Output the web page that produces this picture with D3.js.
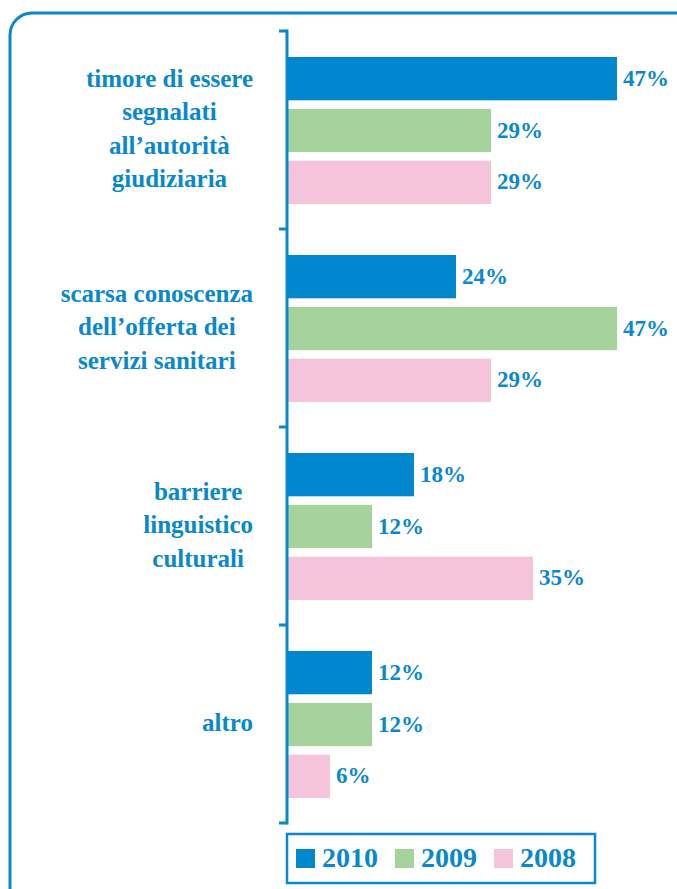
<!DOCTYPE html>
<html>
<head>
<meta charset="utf-8">
<script src="https://cdn.jsdelivr.net/npm/d3@7"></script>
<style>
  html, body { margin: 0; padding: 0; background: #ffffff; }
  svg { display: block; }
</style>
</head>
<body>
<svg id="chart" width="677" height="889"></svg>
<script>
// ---- data ----
const categories = [
  ["timore di essere", "segnalati", "all\u2019autorità", "giudiziaria"],
  ["scarsa conoscenza", "dell\u2019offerta dei", "servizi sanitari"],
  ["barriere", "linguistico", "culturali"],
  ["altro"]
];
const series = ["2010", "2009", "2008"];
const values2010 = [47, 24, 18, 12];
const values2009 = [29, 47, 12, 12];
const values2008 = [29, 29, 35, 6];
const seriesColors = ["#0087cd", "#a6d39c", "#f6c4da"];

const textColor = "#0a88cc";
const font = "'Liberation Serif', 'Times New Roman', serif";

const svg = d3.select("#chart");

// outer frame
svg.append("rect")
  .attr("x", 10).attr("y", 13).attr("width", 700).attr("height", 920)
  .attr("rx", 22).attr("ry", 22)
  .attr("fill", "none").attr("stroke", textColor).attr("stroke-width", 3);

const catIdx = categories.map((d, i) => i);
const y = d3.scaleBand().domain(catIdx).range([31, 823]).paddingInner(0).paddingOuter(0);
const ySub = d3.scaleBand().domain(series).range([26, 173]).paddingInner(0.165);
const x = d3.scaleLinear().domain([0, 47]).range([288, 617]);

const table = catIdx.map(i => series.map((s, j) => ({
  cat: i, series: s, color: seriesColors[j],
  value: [values2010, values2009, values2008][j][i]
})));

// bars
const groups = svg.append("g").selectAll("g").data(table).join("g")
  .attr("transform", (d, i) => `translate(0,${y(i)})`);

groups.selectAll("rect").data(d => d).join("rect")
  .attr("x", x(0))
  .attr("y", d => ySub(d.series))
  .attr("width", d => x(d.value) - x(0))
  .attr("height", ySub.bandwidth())
  .attr("fill", d => d.color);

groups.selectAll("text").data(d => d).join("text")
  .attr("x", d => x(d.value) + 6)
  .attr("y", d => ySub(d.series) + ySub.bandwidth() / 2 + 7)
  .attr("fill", textColor)
  .attr("font-family", font)
  .attr("font-weight", "bold")
  .attr("font-size", 23)
  .text(d => d.value + "%");

// axis line with boundary ticks
const axisX = 287;
const axis = svg.append("g").attr("stroke", textColor).attr("stroke-width", 3);
axis.append("line")
  .attr("x1", axisX).attr("x2", axisX)
  .attr("y1", y.range()[0] - 1.5).attr("y2", y.range()[1] + 1.5);
const tickYs = catIdx.map(i => y(i)).concat([y.range()[1]]);
axis.selectAll("line.tick").data(tickYs).join("line")
  .attr("class", "tick")
  .attr("x1", axisX - 8).attr("x2", axisX)
  .attr("y1", d => d).attr("y2", d => d);

// category labels: block right-aligned at 253, lines centered within block
const labelRight = 253;
const lineH = 33.5;
catIdx.forEach(i => {
  const lines = categories[i];
  const cy = y(i) + y.bandwidth() / 2;
  const g = svg.append("g");
  const texts = g.selectAll("text").data(lines).join("text")
    .attr("y", (d, k) => cy + 7 + (k - (lines.length - 1) / 2) * lineH)
    .attr("fill", textColor)
    .attr("font-family", font)
    .attr("font-weight", "bold")
    .attr("font-size", 25)
    .attr("text-anchor", "middle")
    .text(d => d);
  let maxW = 0;
  texts.each(function () { maxW = Math.max(maxW, this.getComputedTextLength()); });
  texts.attr("x", labelRight - maxW / 2);
});

// legend
const legend = svg.append("g");
legend.append("rect")
  .attr("x", 287).attr("y", 834).attr("width", 308).attr("height", 49)
  .attr("fill", "#fff").attr("stroke", textColor).attr("stroke-width", 2.5);
const legX = [296, 395, 494];
series.forEach((s, j) => {
  legend.append("rect")
    .attr("x", legX[j]).attr("y", 849).attr("width", 19).attr("height", 19)
    .attr("fill", seriesColors[j]);
  legend.append("text")
    .attr("x", legX[j] + 26).attr("y", 867)
    .attr("fill", textColor)
    .attr("font-family", font)
    .attr("font-weight", "bold")
    .attr("font-size", 28)
    .text(s);
});
</script>
</body>
</html>
